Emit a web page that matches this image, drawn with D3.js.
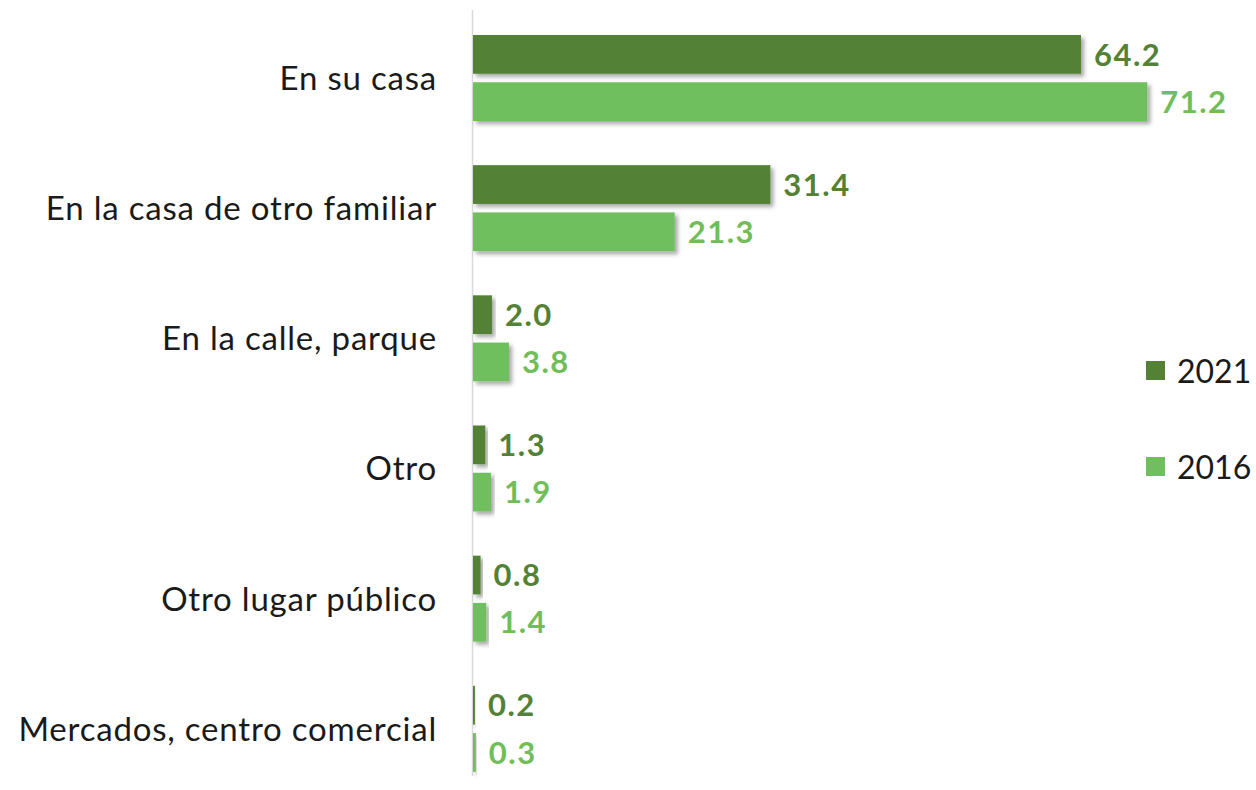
<!DOCTYPE html>
<html>
<head>
<meta charset="utf-8">
<script src="https://cdn.jsdelivr.net/npm/d3@7"></script>
<style>
  html, body { margin: 0; padding: 0; background: #ffffff; }
  svg { display: block; }
</style>
</head>
<body>
<svg id="chart" width="1256" height="790"></svg>
<script>
// Place where the event happened, share (%) by survey year
const categories = [
  "En su casa",
  "En la casa de otro familiar",
  "En la calle, parque",
  "Otro",
  "Otro lugar público",
  "Mercados, centro comercial"
];
const values2021 = [64.2, 31.4, 2.0, 1.3, 0.8, 0.2];
const values2016 = [71.2, 21.3, 3.8, 1.9, 1.4, 0.3];
const seriesNames = ["2021", "2016"];
const seriesColors = ["#538135", "#70bf5f"];
const labelColors = ["#538135", "#70bd5a"];

const svg = d3.select("#chart");
const fontFamily = "Lato, 'Open Sans', sans-serif";

const defs = svg.append("defs");
const shadow = defs.append("filter").attr("id", "barShadow")
  .attr("x", "-10%").attr("y", "-30%").attr("width", "130%").attr("height", "180%");
shadow.append("feDropShadow")
  .attr("dx", 3).attr("dy", 3).attr("stdDeviation", 2)
  .attr("flood-color", "#000").attr("flood-opacity", 0.35);

const x0 = 473;
const x = d3.scaleLinear().domain([0, 64.2]).range([x0, 1081]);

const y = d3.scaleBand().domain(categories).range([13, 794]).paddingInner(0).paddingOuter(0);
const ySub = d3.scaleBand().domain(seriesNames).range([22, 108]).paddingInner(0.18);

const rows = categories.map((c, i) => ({
  cat: c,
  vals: [values2021[i], values2016[i]]
}));

// Vertical category axis line
svg.append("line")
  .attr("x1", x0 - 0.5).attr("x2", x0 - 0.5)
  .attr("y1", 10).attr("y2", 776)
  .attr("stroke", "#d9d9d9").attr("stroke-width", 1.5);

const g = svg.selectAll("g.row").data(rows).join("g")
  .attr("class", "row")
  .attr("transform", d => `translate(0,${y(d.cat)})`);

seriesNames.forEach((s, si) => {
  g.append("rect")
    .attr("x", x0)
    .attr("y", ySub(s))
    .attr("width", d => Math.max(1.5, x(d.vals[si]) - x0))
    .attr("height", ySub.bandwidth())
    .attr("fill", seriesColors[si])
    .attr("filter", "url(#barShadow)");

  g.append("text")
    .attr("x", d => Math.max(x0 + 2, x(d.vals[si])) + 13)
    .attr("y", ySub(s) + ySub.bandwidth() / 2)
    .attr("dy", "0.36em")
    .attr("font-family", fontFamily)
    .attr("font-weight", "bold")
    .attr("font-size", 31)
    .attr("letter-spacing", 1.5)
    .attr("fill", labelColors[si])
    .text(d => d.vals[si].toFixed(1));
});

// Category labels
g.append("text")
  .attr("x", 437)
  .attr("y", y.bandwidth() / 2)
  .attr("dy", "0.36em")
  .attr("text-anchor", "end")
  .attr("font-family", fontFamily)
  .attr("font-size", 33)
  .attr("letter-spacing", 0.8)
  .attr("fill", "#1a1a1a")
  .text(d => d.cat);

// Legend
const legendY = [371, 467];
const legend = svg.selectAll("g.legend").data(seriesNames).join("g")
  .attr("class", "legend")
  .attr("transform", (d, i) => `translate(1146,${legendY[i]})`);
legend.append("rect")
  .attr("x", 0).attr("y", -10).attr("width", 19).attr("height", 19)
  .attr("fill", (d, i) => seriesColors[i]);
legend.append("text")
  .attr("x", 31).attr("y", 0).attr("dy", "0.36em")
  .attr("font-family", fontFamily)
  .attr("font-size", 32)
  .attr("fill", "#1a1a1a")
  .text(d => d);
</script>
</body>
</html>
